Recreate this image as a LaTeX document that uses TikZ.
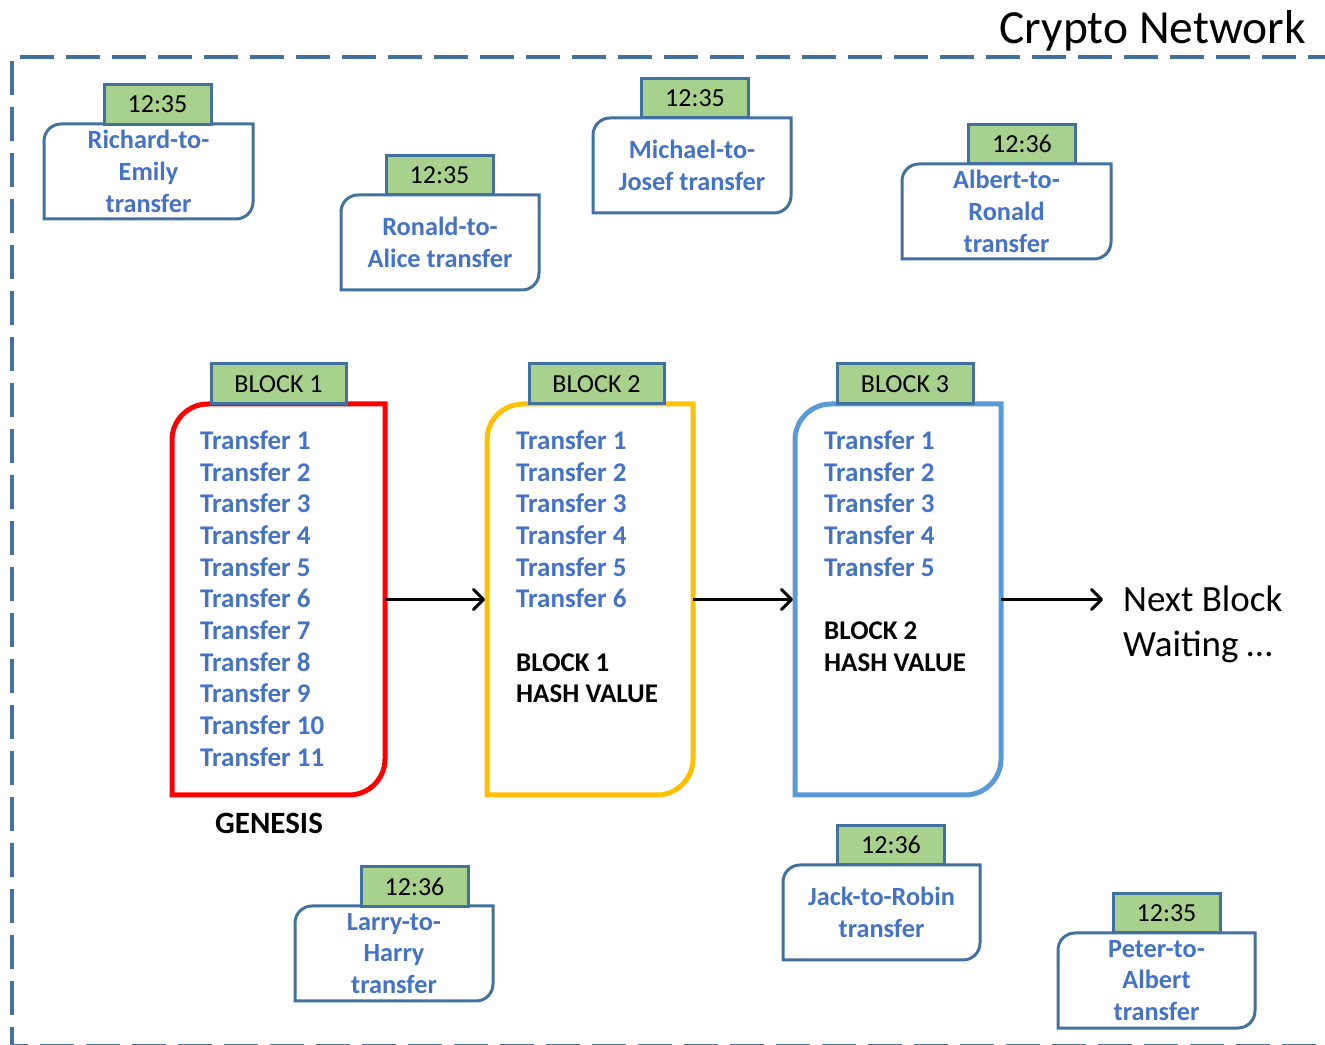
\documentclass[tikz,border=0pt]{standalone}
\usepackage{fontspec}
\setmainfont{Carlito}
\usetikzlibrary{arrows.meta,calc}

\definecolor{edgeblue}{HTML}{41719C}
\definecolor{txtblue}{HTML}{4472C4}
\definecolor{taggreen}{HTML}{A9D18E}
\definecolor{genred}{HTML}{FF0000}
\definecolor{blkyellow}{HTML}{FFC000}
\definecolor{blkblue}{HTML}{5B9BD5}

% outline with rounded top-left and bottom-right corners around a node
\newcommand\diagoutline[3]{%
  \draw[#1] ($(#2.north west)+(0pt,-#3)$) arc[start angle=180,end angle=90,radius=#3]
    -- (#2.north east) -- ($(#2.south east)+(0pt,#3)$)
    arc[start angle=0,end angle=-90,radius=#3] -- (#2.south west) -- cycle;}

% pending transaction: box, outline and time stamp
% #1 name, #2/#3 centre, #4 width, #5/#6 stamp centre, #7 time, #8 text
\newcommand\txn[8]{%
  \node[txbox, minimum width=#4] (#1) at (#2,#3) {#8};
  \diagoutline{edgeblue, line width=3pt}{#1}{17pt}
  \node[stamp, minimum width=107pt] (#1-time) at (#5,#6) {#7};}

\begin{document}
\begin{tikzpicture}[x=1pt,y=1pt,
  txbox/.style={rectangle, inner sep=0pt, outer sep=0pt, minimum height=95pt,
    align=center, text=txtblue, font=\fontsize{26.3}{31.7}\selectfont\bfseries},
  stamp/.style={rectangle, draw=edgeblue, fill=taggreen, line width=3pt,
    inner sep=0pt, minimum height=39.5pt, font=\fontsize{26}{31}\selectfont},
  blk/.style={rectangle, inner sep=0pt, outer sep=0pt, minimum height=391pt},
  tline/.style={anchor=base west, inner sep=0pt, text=txtblue,
    font=\fontsize{27}{31.7}\selectfont\bfseries},
  hline/.style={anchor=base west, inner sep=0pt, text=black,
    font=\fontsize{27}{31.7}\selectfont\bfseries},
  link/.style={line width=3pt, -{Straight Barb[length=10pt,width=20pt,round]}, shorten >=2pt}]

\useasboundingbox (0,0) rectangle (1325,1044);

% network boundary
\begin{scope}
  \clip (0,0) rectangle (1325,1044);
  \draw[edgeblue, line width=4pt, dash pattern=on 34pt off 12pt, dash phase=7pt]
    (1335,987) -- (12,987) -- (12,-1.5) -- (1335,-1.5);
\end{scope}
\node[anchor=base east, inner sep=0pt, font=\fontsize{47.5}{56}\selectfont] (title) at (1306,1000) {Crypto Network};

% pending transactions
\txn{rich}{148.5}{872.5}{209pt}{157.5}{939.5}{12:35}{Richard-to-\\Emily\\transfer}
\txn{ronald}{440}{801.5}{198pt}{439.5}{869}{12:35}{Ronald-to-\\Alice transfer}
\txn{michael}{692}{878.5}{198pt}{695}{946}{12:35}{Michael-to-\\Josef transfer}
\txn{albert}{1006.5}{832.5}{209pt}{1022}{900}{12:36}{Albert-to-\\Ronald\\transfer}
\txn{larry}{394}{90.5}{198pt}{414.5}{157.5}{12:36}{Larry-to-\\Harry\\transfer}
\txn{jack}{881.5}{131.5}{197pt}{891}{199}{12:36}{Jack-to-Robin\\transfer}
\txn{peter}{1156.5}{63.5}{197pt}{1166.5}{131}{12:35}{Peter-to-\\Albert\\transfer}

% block 1 (genesis)
\node[blk, minimum width=213pt] (b1) at (278.5,444.5) {};
\diagoutline{genred, line width=5pt}{b1}{36pt}
\node[stamp, minimum width=135pt, minimum height=40pt] (b1-tag) at (278.5,660) {BLOCK 1};
\foreach \k in {1,...,11}
  \node[tline] (b1t\k) at (200,{594.6-31.7*(\k-1)}) {Transfer \k};
\node[inner sep=0pt, font=\fontsize{31}{37}\selectfont\bfseries] (genesis) at (269,221) {GENESIS};

% block 2
\node[blk, minimum width=206pt] (b2) at (590,444.5) {};
\diagoutline{blkyellow, line width=5pt}{b2}{36pt}
\node[stamp, minimum width=135pt, minimum height=40pt] (b2-tag) at (596.5,660) {BLOCK 2};
\foreach \k in {1,...,6}
  \node[tline] (b2t\k) at (516,{594.6-31.7*(\k-1)}) {Transfer \k};
\node[hline] (b2h1) at (516,{594.6-31.7*7}) {BLOCK 1};
\node[hline] (b2h2) at (516,{594.6-31.7*8}) {HASH VALUE};

% block 3
\node[blk, minimum width=206pt] (b3) at (898,444.5) {};
\diagoutline{blkblue, line width=5pt}{b3}{36pt}
\node[stamp, minimum width=136pt, minimum height=40pt] (b3-tag) at (905,660) {BLOCK 3};
\foreach \k in {1,...,5}
  \node[tline] (b3t\k) at (824,{594.6-31.7*(\k-1)}) {Transfer \k};
\node[hline] (b3h1) at (824,{594.6-31.7*6}) {BLOCK 2};
\node[hline] (b3h2) at (824,{594.6-31.7*7}) {HASH VALUE};

% chain links
\coordinate (nextin) at (1105,444.5);
\draw[link] (b1.east) -- (b2.west);
\draw[link] (b2.east) -- (b3.west);
\draw[link] (b3.east) -- (nextin);
\node[anchor=north west, inner sep=0pt, align=left, font=\fontsize{37}{45}\selectfont] (wait) at (1123,458) {Next Block\\Waiting …};

\end{tikzpicture}
\end{document}
